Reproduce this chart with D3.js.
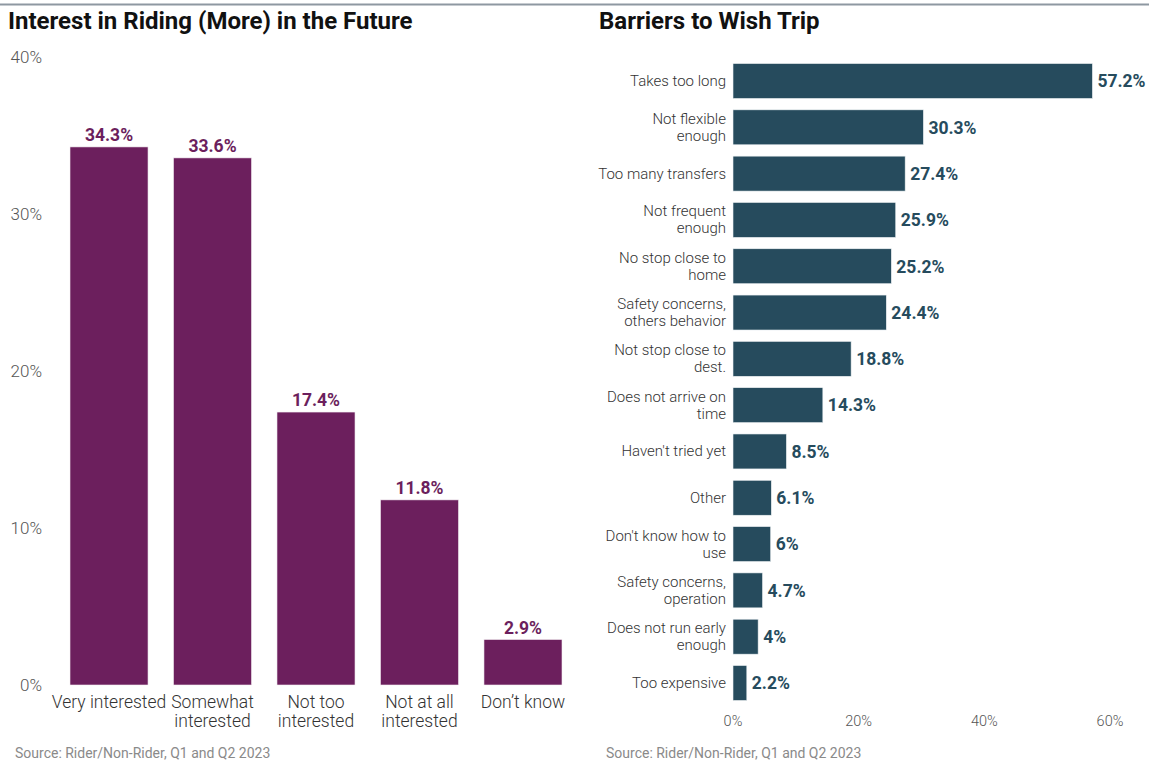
<!DOCTYPE html>
<html>
<head>
<meta charset="utf-8">
<script src="https://cdn.jsdelivr.net/npm/d3@7"></script>
<style>
  html, body { margin: 0; padding: 0; background: #fff; }
  svg { display: block; font-family: Roboto, "Noto Sans", sans-serif; }
</style>
</head>
<body>
<svg id="chart" width="1149" height="765"></svg>
<script>
// Interest in riding (more) in the future
const interestCategories = [["Very interested"], ["Somewhat", "interested"], ["Not too", "interested"], ["Not at all", "interested"], ["Don’t know"]];
const interestValues = [34.3, 33.6, 17.4, 11.8, 2.9];
const interestTicks = [0, 10, 20, 30, 40];

// Barriers to the wished-for trip
const barrierCategories = [
  ["Takes too long"],
  ["Not flexible", "enough"],
  ["Too many transfers"],
  ["Not frequent", "enough"],
  ["No stop close to", "home"],
  ["Safety concerns,", "others behavior"],
  ["Not stop close to", "dest."],
  ["Does not arrive on", "time"],
  ["Haven't tried yet"],
  ["Other"],
  ["Don't know how to", "use"],
  ["Safety concerns,", "operation"],
  ["Does not run early", "enough"],
  ["Too expensive"]
];
const barrierValues = [57.2, 30.3, 27.4, 25.9, 25.2, 24.4, 18.8, 14.3, 8.5, 6.1, 6, 4.7, 4, 2.2];
const barrierTicks = [0, 20, 40, 60];

const sourceNote = "Source: Rider/Non-Rider, Q1 and Q2 2023";

const svg = d3.select("#chart");
const purple = "#6c1f5d";
const teal = "#264b5d";
const fmt = v => `${v}%`;

// rule across the top
svg.append("line")
  .attr("x1", 0).attr("x2", 1149).attr("y1", 4.5).attr("y2", 4.5)
  .attr("stroke", "#8e98a1").attr("stroke-width", 2);

// ---------- Left panel: vertical bars ----------
svg.append("text").attr("x", 8).attr("y", 29)
  .attr("font-size", 24).attr("font-weight", 700).attr("fill", "#111")
  .text("Interest in Riding (More) in the Future");

const xL = d3.scaleBand().domain(d3.range(interestValues.length))
  .range([70, 562]).paddingInner(0.246).paddingOuter(0);
const yL = d3.scaleLinear().domain([0, 40]).range([685, 57.5]);

const left = svg.append("g");
left.selectAll("text.ytick").data(interestTicks).join("text")
  .attr("class", "ytick")
  .attr("x", 42).attr("y", d => yL(d)).attr("dy", "0.35em")
  .attr("text-anchor", "end").attr("font-size", 17).attr("font-weight", 300)
  .attr("fill", "#555").text(fmt);

left.selectAll("rect").data(interestValues).join("rect")
  .attr("x", (d, i) => xL(i)).attr("width", xL.bandwidth())
  .attr("y", d => yL(d)).attr("height", d => yL(0) - yL(d))
  .attr("fill", purple).attr("stroke", "#f3eef2").attr("stroke-width", 0.6);

left.selectAll("text.val").data(interestValues).join("text")
  .attr("class", "val")
  .attr("x", (d, i) => xL(i) + xL.bandwidth() / 2).attr("y", d => yL(d) - 6)
  .attr("text-anchor", "middle").attr("font-size", 17.5).attr("font-weight", 700)
  .attr("fill", purple).text(fmt);

left.selectAll("text.cat").data(interestCategories).join("text")
  .attr("class", "cat")
  .attr("x", (d, i) => xL(i) + xL.bandwidth() / 2).attr("y", 708)
  .attr("text-anchor", "middle").attr("font-size", 17.5).attr("font-weight", 300)
  .attr("fill", "#333")
  .each(function (lines) {
    const t = d3.select(this);
    lines.forEach((ln, k) => {
      t.append("tspan").attr("x", t.attr("x")).attr("dy", k === 0 ? 0 : 18.5).text(ln);
    });
  });

svg.append("text").attr("x", 15).attr("y", 758)
  .attr("font-size", 14).attr("font-weight", 400).attr("fill", "#8a8a8a")
  .text(sourceNote);

// ---------- Right panel: horizontal bars ----------
svg.append("text").attr("x", 599).attr("y", 29)
  .attr("font-size", 24).attr("font-weight", 700).attr("fill", "#111")
  .text("Barriers to Wish Trip");

const xR = d3.scaleLinear().domain([0, 60]).range([733, 1110]);
const yR = d3.scaleBand().domain(d3.range(barrierValues.length))
  .range([57.85, 706.15]).paddingInner(0.245).paddingOuter(0.1225);

const right = svg.append("g");
right.selectAll("rect").data(barrierValues).join("rect")
  .attr("x", xR(0)).attr("y", (d, i) => yR(i))
  .attr("width", d => xR(d) - xR(0)).attr("height", yR.bandwidth())
  .attr("fill", teal).attr("stroke", "#eef2f4").attr("stroke-width", 0.6);

right.selectAll("text.val").data(barrierValues).join("text")
  .attr("class", "val")
  .attr("x", d => xR(d) + 5).attr("y", (d, i) => yR(i) + yR.bandwidth() / 2)
  .attr("dy", "0.36em").attr("font-size", 17.5).attr("font-weight", 700)
  .attr("fill", teal).text(fmt);

right.selectAll("text.cat").data(barrierCategories).join("text")
  .attr("class", "cat")
  .attr("x", 726).attr("y", (d, i) => yR(i) + yR.bandwidth() / 2)
  .attr("text-anchor", "end").attr("font-size", 15).attr("font-weight", 300)
  .attr("fill", "#333")
  .each(function (lines) {
    const t = d3.select(this);
    const lh = 17;
    const first = -(lines.length - 1) * lh / 2;
    lines.forEach((ln, k) => {
      t.append("tspan").attr("x", 726)
        .attr("dy", k === 0 ? `${first + 5}` : lh).text(ln);
    });
  });

right.selectAll("text.xtick").data(barrierTicks).join("text")
  .attr("class", "xtick")
  .attr("x", d => xR(d)).attr("y", 726)
  .attr("text-anchor", "middle").attr("font-size", 14.5).attr("font-weight", 300)
  .attr("fill", "#555").text(fmt);

svg.append("text").attr("x", 606).attr("y", 758)
  .attr("font-size", 14).attr("font-weight", 400).attr("fill", "#8a8a8a")
  .text(sourceNote);
</script>
</body>
</html>
